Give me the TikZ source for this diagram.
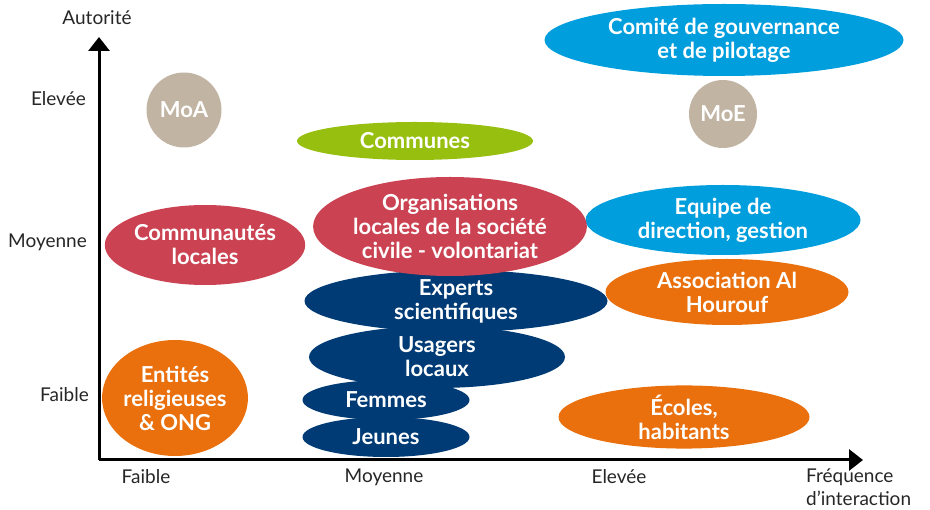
\documentclass[tikz,border=0pt]{standalone}
\usepackage{fontspec}
\setmainfont{Lato}
\usepackage{xcolor}
\usetikzlibrary{shapes.geometric,arrows.meta}
\definecolor{taupe}{HTML}{C1B4A3}
\definecolor{rouge}{HTML}{CB4352}
\definecolor{marine}{HTML}{003B75}
\definecolor{ciel}{HTML}{009EDD}
\definecolor{orange}{HTML}{E9700D}
\definecolor{vert}{HTML}{97BF10}
\tikzset{
actornode/.style n args={3}{ellipse, fill=#1, draw=none, inner sep=0pt, minimum width=#2, minimum height=#3, text=white, align=center, font=\fontsize{22}{24}\selectfont\bfseries},
axislabel/.style={font=\fontsize{19}{23}\selectfont, text=black!85, inner sep=0pt},
axisline/.style={line width=3pt, -{Triangle[length=14pt,width=21pt]}},
}
\begin{document}
\begin{tikzpicture}[x=1pt,y=-1pt]
\useasboundingbox (0,0) rectangle (930,510);

% axes
\coordinate (o) at (99,460);
\coordinate (ytop) at (99,37);
\coordinate (xend) at (863,460);
\draw[axisline] (o) -- (ytop);
\draw[axisline] (o) -- (xend);

\node[axislabel] at (97,18) (autorite) {Autorité};
\node[axislabel, anchor=east] at (86,99) (yhaut) {Elevée};
\node[axislabel, anchor=east] at (87,242) (ymoy) {Moyenne};
\node[axislabel, anchor=east] at (89,395) (ybas) {Faible};
\node[axislabel] at (146,477) (xbas) {Faible};
\node[axislabel] at (384,477) (xmoy) {Moyenne};
\node[axislabel] at (619,477) (xhaut) {Elevée};
\node[axislabel, anchor=north west, align=left] at (806,469) (freq) {Fréquence\\d’interaction};

% acteurs
\node[actornode={ciel}{359pt}{72pt}] at (724,40) (comite) {Comité de gouvernance\\et de pilotage};
\node[actornode={taupe}{68pt}{68pt}] at (723,114) (moe) {MoE};
\node[actornode={taupe}{75pt}{75pt}] at (184,110) (moa) {MoA};
\node[actornode={vert}{236pt}{38pt}] at (415,141) (communes) {Communes};
\node[actornode={rouge}{193pt}{80pt}] at (205,245) (communautes) {Communautés\\locales};
\node[actornode={ciel}{275pt}{70pt}] at (723,220) (equipe) {Equipe de\\direction, gestion};
\node[actornode={orange}{243pt}{66pt}] at (727,292) (asso) {Association Al\\Hourouf};
\node[actornode={marine}{303pt}{62pt}] at (456,301) (experts) {Experts\\scientifiques};
\node[actornode={rouge}{270pt}{99pt}] at (450,226.5) (orga) {Organisations\\locales de la société\\civile - volontariat};
\node[actornode={marine}{256pt}{62pt}] at (437,357) (usagers) {Usagers\\locaux};
\node[actornode={marine}{167pt}{40pt}] at (386,400) (femmes) {Femmes};
\node[actornode={marine}{167pt}{40pt}] at (386,437) (jeunes) {Jeunes};
\node[actornode={orange}{136pt}{116pt}] at (175,398) (entites) {Entités\\religieuses\\\& ONG};
\node[actornode={orange}{251pt}{58pt}] at (684,417) (ecoles) {Écoles,\\habitants};

\end{tikzpicture}
\end{document}
